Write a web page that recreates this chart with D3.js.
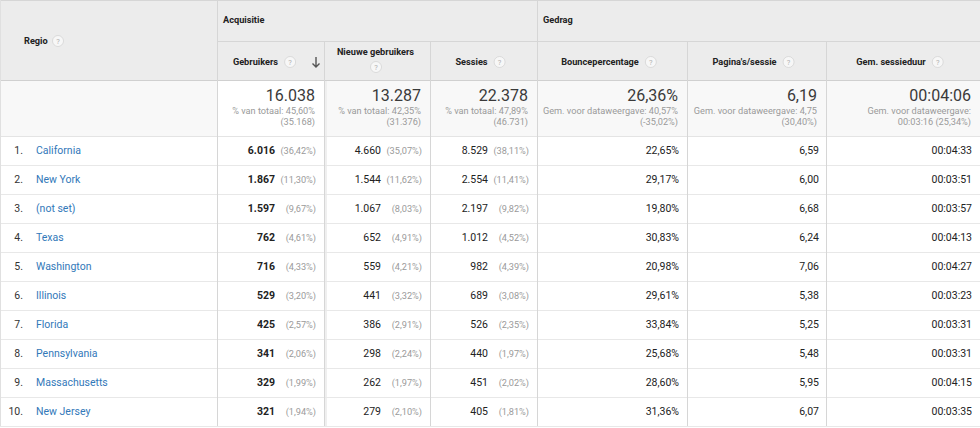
<!DOCTYPE html>
<html><head><meta charset="utf-8">
<script src="https://cdn.jsdelivr.net/npm/d3@7"></script>
<style>
html,body{margin:0;padding:0;background:#fff;}
svg{display:block;font-family:Roboto,"Noto Sans",Arial,sans-serif;}
</style></head>
<body><svg id="c" width="980" height="428"></svg>
<script>
// ---------- DATA ----------
const ranks = [1,2,3,4,5,6,7,8,9,10];
const regions = ["California","New York","(not set)","Texas","Washington","Illinois","Florida","Pennsylvania","Massachusetts","New Jersey"];
const gebruikers = [6016,1867,1597,762,716,529,425,341,329,321];
const gebruikersPct = [36.42,11.30,9.67,4.61,4.33,3.20,2.57,2.06,1.99,1.94];
const nieuweGebruikers = [4660,1544,1067,652,559,441,386,298,262,279];
const nieuwePct = [35.07,11.62,8.03,4.91,4.21,3.32,2.91,2.24,1.97,2.10];
const sessies = [8529,2554,2197,1012,982,689,526,440,451,405];
const sessiesPct = [38.11,11.41,9.82,4.52,4.39,3.08,2.35,1.97,2.02,1.81];
const bouncePct = [22.65,29.17,19.80,30.83,20.98,29.61,33.84,25.68,28.60,31.36];
const paginasPerSessie = [6.59,6.00,6.68,6.24,7.06,5.38,5.25,5.48,5.95,6.07];
const sessieduurSec = [273,231,237,253,267,203,211,211,255,215];

const groupLabels = ["Acquisitie","Gedrag"];
const columnLabels = ["Gebruikers","Nieuwe gebruikers","Sessies","Bouncepercentage","Pagina's/sessie","Gem. sessieduur"];
const summaryMain = ["16.038","13.287","22.378","26,36%","6,19","00:04:06"];
const summaryLine1 = ["% van totaal: 45,60%","% van totaal: 42,35%","% van totaal: 47,89%","Gem. voor dataweergave: 40,57%","Gem. voor dataweergave: 4,75","Gem. voor dataweergave:"];
const summaryLine2 = ["(35.168)","(31.376)","(46.731)","(-35,02%)","(30,40%)","00:03:16 (25,34%)"];

// ---------- LAYOUT ----------
const W = 980;
const colEdges = [0,217,324,430,537,687,826,980];
const yH1 = 41, yH2 = 80, ySum = 136, yEnd = 426;
const loc = d3.formatLocale({decimal:",", thousands:".", grouping:[3], currency:["€",""]});
const fInt = loc.format(",d");
const f2 = loc.format(".2f");
const fPct = v => f2(v) + "%";
const fDur = s => "00:" + String(Math.floor(s/60)).padStart(2,"0") + ":" + String(s%60).padStart(2,"0");

const svg = d3.select("#c");
const y = d3.scaleBand().domain(ranks).range([ySum, yEnd]);
const colL = i => colEdges[i+1], colR = i => colEdges[i+2]; // data col i (0..5)

const lineC = "#dedede";
// backgrounds
svg.append("rect").attr("x",0).attr("y",0).attr("width",W).attr("height",yH2).attr("fill","#ececec");
svg.append("rect").attr("x",0).attr("y",yH2).attr("width",W).attr("height",ySum-yH2).attr("fill","#f8f8f8");
svg.append("rect").attr("x",colL(0)).attr("y",yH2).attr("width",colR(0)-colL(0)).attr("height",ySum-yH2).attr("fill","#fff");
svg.append("rect").attr("x",colR(0)).attr("y",yH2).attr("width",3).attr("height",yEnd-yH2).attr("fill","#efefef");

// horizontal lines
const hl = (x1,x2,yy,c) => svg.append("line").attr("x1",x1).attr("x2",x2).attr("y1",yy+0.5).attr("y2",yy+0.5).attr("stroke",c||lineC);
hl(0,W,0,"#d6d6d6");
hl(colEdges[1],W,yH1,"#d6d6d6");
hl(0,W,yH2,"#d0d0d0");
hl(0,W,ySum,"#e4e4e4");
ranks.forEach(r => hl(0,W,y(r)+y.bandwidth(),"#e8e8e8"));
// vertical lines
const vl = (x,y1,y2,c) => svg.append("line").attr("x1",x+0.5).attr("x2",x+0.5).attr("y1",y1).attr("y2",y2).attr("stroke",c||lineC);
vl(0,0,yEnd,"#e0e0e0");
vl(colEdges[1],0,yEnd,"#d6d6d6");
vl(colEdges[4],0,yEnd,"#d6d6d6");
[2,3,5,6].forEach(i => vl(colEdges[i],yH1,yEnd,"#d6d6d6"));

// help icon
function help(g,cx,cy){
  g.append("circle").attr("cx",cx).attr("cy",cy).attr("r",5.5).attr("fill","#f7f7f7").attr("stroke","#d4d4d4").attr("stroke-width",0.8);
  g.append("text").attr("x",cx).attr("y",cy+2.6).attr("text-anchor","middle").attr("font-size",7.5).attr("font-weight",400).attr("fill","#b0b0b0").text("?");
}

const hdr = svg.append("g").attr("font-size",9.2).attr("font-weight",700).attr("fill","#222");
// Regio
hdr.append("text").attr("x",24).attr("y",44).text("Regio");
help(hdr,58,41);
// group labels
hdr.append("text").attr("x",colEdges[1]+6).attr("y",23).text(groupLabels[0]);
hdr.append("text").attr("x",colEdges[4]+6).attr("y",23).text(groupLabels[1]);

// column headers
columnLabels.forEach((lab,i) => {
  const cx = (colL(i)+colR(i))/2;
  if (i === 1) {
    hdr.append("text").attr("x",cx - 1.5).attr("y",55).attr("text-anchor","middle").text(lab);
    help(hdr,cx - 1,67);
    return;
  }
  const t = hdr.append("text").attr("y",65).text(lab);
  const w = t.node().getComputedTextLength();
  const extra = i === 0 ? 42 : 18;
  const x0 = cx - (w+extra)/2 - (i===0 ? -6 : 3);
  t.attr("x",x0);
  help(hdr,x0+w+12,62);
  if (i === 0) {
    const ax = colR(0)-8;
    hdr.append("path").attr("d",`M${ax},57 V67 M${ax-3.5},63.5 L${ax},67 L${ax+3.5},63.5`).attr("stroke","#555").attr("stroke-width",1.4).attr("fill","none");
  }
});

// summary row
const sum = svg.append("g");
summaryMain.forEach((v,i) => {
  const xr = colR(i) - 9;
  sum.append("text").attr("x",xr).attr("y",101).attr("text-anchor","end").attr("font-size",16).attr("fill","#3a3a3a").text(v);
  sum.append("text").attr("x",xr).attr("y",113.5).attr("text-anchor","end").attr("font-size",9.2).attr("fill","#9a9a9a").text(summaryLine1[i]);
  sum.append("text").attr("x",xr).attr("y",124.5).attr("text-anchor","end").attr("font-size",9.2).attr("fill","#9a9a9a").text(summaryLine2[i]);
});

// data rows
const rows = svg.append("g").selectAll("g").data(ranks).join("g")
  .attr("transform", r => `translate(0,${y(r)+y.bandwidth()/2+3.8})`);
rows.append("text").attr("x",23).attr("text-anchor","end").attr("font-size",10.5).attr("fill","#333").text(r => r + ".");
rows.append("text").attr("x",36).attr("font-size",10.5).attr("fill","#3278b9").text((r,i) => regions[i]);

const pairCols = [[gebruikers,gebruikersPct,true],[nieuweGebruikers,nieuwePct,false],[sessies,sessiesPct,false]];
pairCols.forEach(([vals,pcts,bold],c) => {
  rows.append("text").attr("x",colR(c)-49).attr("text-anchor","end").attr("font-size",10.5)
    .attr("font-weight",bold?700:400).attr("fill","#222").text((r,i) => fInt(vals[i]));
  rows.append("text").attr("x",colR(c)-8).attr("text-anchor","end").attr("font-size",9.2)
    .attr("fill","#9a9a9a").text((r,i) => "(" + fPct(pcts[i]) + ")");
});
rows.append("text").attr("x",colR(3)-8).attr("text-anchor","end").attr("font-size",10.5).attr("fill","#222").text((r,i) => fPct(bouncePct[i]));
rows.append("text").attr("x",colR(4)-7).attr("text-anchor","end").attr("font-size",10.5).attr("fill","#222").text((r,i) => f2(paginasPerSessie[i]));
rows.append("text").attr("x",colR(5)-8).attr("text-anchor","end").attr("font-size",10.5).attr("fill","#222").text((r,i) => fDur(sessieduurSec[i]));
</script></body></html>
